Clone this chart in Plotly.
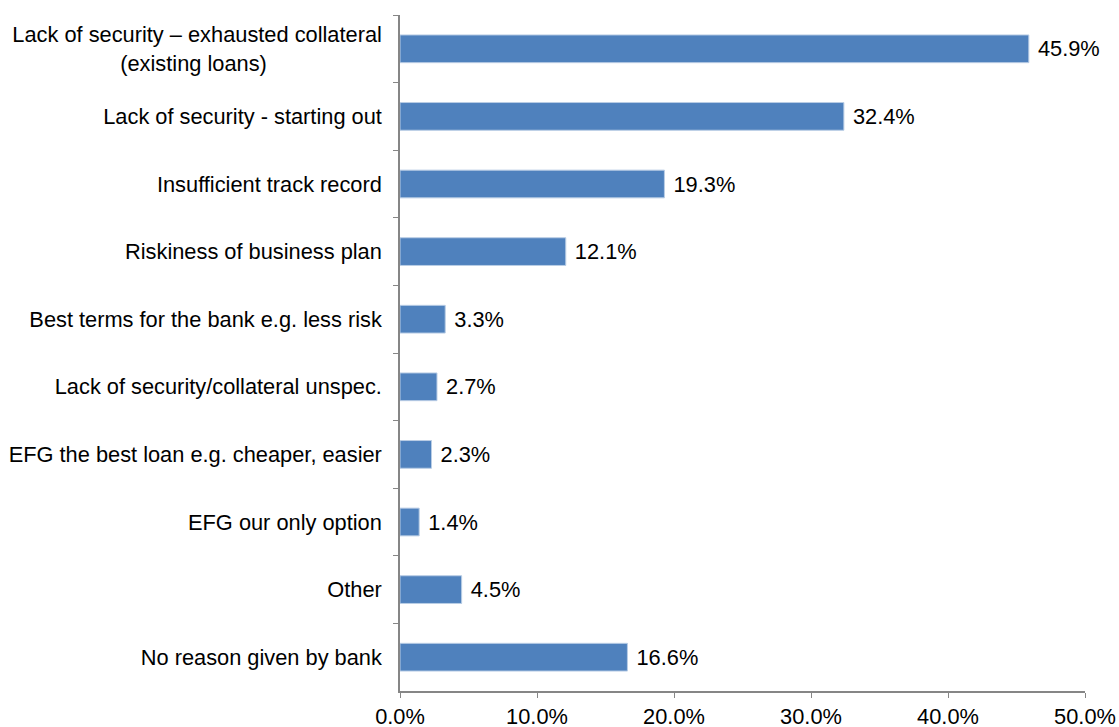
import plotly.graph_objects as go

categories = [
    "Lack of security – exhausted collateral<br>(existing loans)" + "\u00a0" * 19,
    "Lack of security - starting out",
    "Insufficient track record",
    "Riskiness of business plan",
    "Best terms for the bank e.g. less risk",
    "Lack of security/collateral unspec.",
    "EFG the best loan e.g. cheaper, easier",
    "EFG our only option",
    "Other",
    "No reason given by bank",
]
values = [45.9, 32.4, 19.3, 12.1, 3.3, 2.7, 2.3, 1.4, 4.5, 16.6]
tick_vals = [0, 10, 20, 30, 40, 50]
tick_text = ["0.0%", "10.0%", "20.0%", "30.0%", "40.0%", "50.0%"]

FONT = "Liberation Sans, Arial, sans-serif"
FS = 21.8
AXIS_COLOR = "#868686"

fig = go.Figure(
    go.Bar(
        y=categories,
        x=values,
        orientation="h",
        marker=dict(color="#4F81BD", line=dict(color="#B9CDE5", width=1)),
        text=["\u00a0" + f"{v:.1f}%" for v in values],
        textposition="outside",
        textfont=dict(family=FONT, size=FS, color="#000000"),
        cliponaxis=False,
        width=0.41,
    )
)

fig.update_layout(
    width=1119,
    height=727,
    margin=dict(l=400, r=34, t=15, b=36, autoexpand=False),
    paper_bgcolor="white",
    plot_bgcolor="white",
    showlegend=False,
    font=dict(family=FONT, size=FS, color="#000000"),
)

fig.update_xaxes(
    range=[0, 50],
    tickvals=tick_vals,
    ticktext=tick_text,
    showgrid=False,
    zeroline=False,
    showline=True,
    linecolor=AXIS_COLOR,
    linewidth=1.5,
    ticks="outside",
    ticklen=5,
    tickcolor=AXIS_COLOR,
    tickfont=dict(family=FONT, size=FS, color="#000000"),
    ticklabelstandoff=0,
    automargin=False,
)

fig.update_yaxes(
    autorange="reversed",
    showgrid=False,
    zeroline=False,
    showline=True,
    linecolor=AXIS_COLOR,
    linewidth=1.5,
    ticks="outside",
    ticklen=5,
    tickcolor=AXIS_COLOR,
    tickson="boundaries",
    tickfont=dict(family=FONT, size=FS, color="#000000"),
    ticklabelstandoff=12,
    automargin=False,
)

fig.write_html(
    "out.html",
    config={"displayModeBar": False},
    post_script="document.body.style.margin='0';document.body.style.overflow='hidden';",
)
